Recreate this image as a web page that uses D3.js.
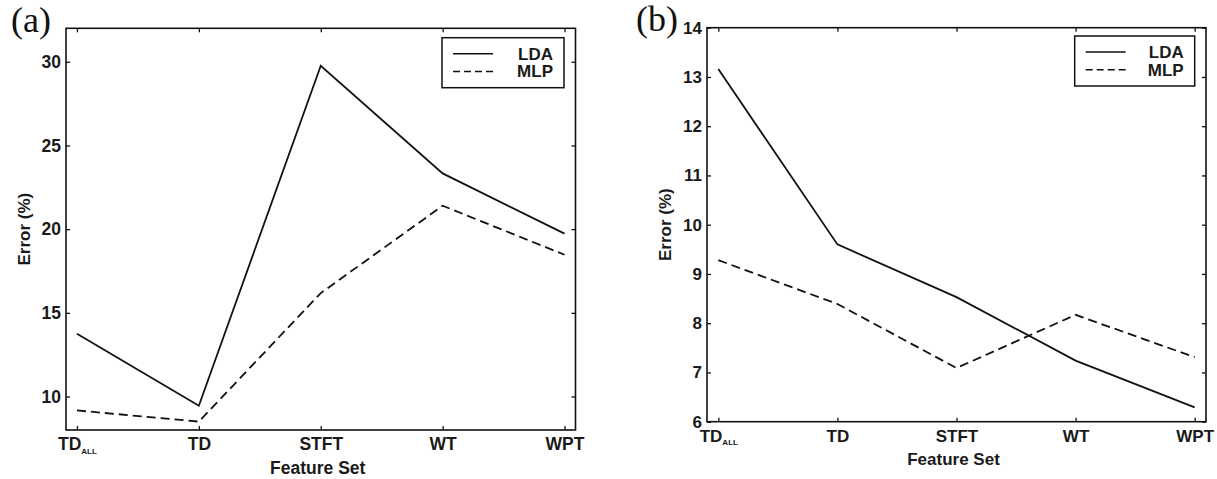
<!DOCTYPE html>
<html>
<head>
<meta charset="utf-8">
<script src="https://cdn.jsdelivr.net/npm/d3@7"></script>
<style>
  body { margin: 0; background: #fff; }
</style>
</head>
<body>
<script>
// feature sets on the x axis
var featureSets = ["TD_ALL", "TD", "STFT", "WT", "WPT"];

// panel (a) error values (%)
var ldaErrorA = [13.75, 9.45, 29.76, 23.33, 19.73];
var mlpErrorA = [9.17, 8.5, 16.18, 21.4, 18.47];
var yTicksA = [10, 15, 20, 25, 30];

// panel (b) error values (%)
var ldaErrorB = [13.16, 9.6, 8.53, 7.24, 6.29];
var mlpErrorB = [9.28, 8.39, 7.09, 8.17, 7.31];
var yTicksB = [6, 7, 8, 9, 10, 11, 12, 13, 14];

var seriesNames = ["LDA", "MLP"];
var sans = "'Liberation Sans', Arial, sans-serif";

var svg = d3.select("body").append("svg")
  .attr("width", 1217)
  .attr("height", 479);

// scanned-looking heavy sans text
function inkText(sel, size) {
  return sel
    .style("font-family", sans)
    .style("font-size", size + "px")
    .style("font-weight", "bold")
    .attr("fill", "#1a1a1a");
}

function drawPanel(p) {
  var x = d3.scalePoint()
    .domain(featureSets)
    .range([p.left, p.right])
    .padding(p.pad);
  var y = d3.scaleLinear()
    .domain(p.yDomain)
    .range([p.bottom, p.top]);

  var g = svg.append("g");

  // inward ticks on all four sides
  var bottomAxis = g.append("g")
    .attr("transform", `translate(0, ${p.bottom})`)
    .call(d3.axisBottom(x).tickSize(-4).tickPadding(p.xPad).tickSizeOuter(0));
  g.append("g")
    .attr("transform", `translate(0, ${p.top})`)
    .call(d3.axisTop(x).tickSize(-4).tickFormat("").tickSizeOuter(0));
  g.append("g")
    .attr("transform", `translate(${p.left}, 0)`)
    .call(d3.axisLeft(y).tickValues(p.yTicks).tickSize(-4).tickPadding(5).tickSizeOuter(0));
  g.append("g")
    .attr("transform", `translate(${p.right}, 0)`)
    .call(d3.axisRight(y).tickValues(p.yTicks).tickSize(-4).tickFormat("").tickSizeOuter(0));

  g.selectAll(".domain").remove();
  g.selectAll(".tick line").attr("stroke", "#111").attr("stroke-width", 1.3);
  inkText(g.selectAll(".tick text"), p.fs);

  // subscript for TD_ALL
  bottomAxis.selectAll(".tick text").each(function(d) {
    if (d === "TD_ALL") {
      var t = d3.select(this).text("TD");
      t.append("tspan")
        .style("font-size", "8px")
        .attr("dy", "0.45em")
        .text("ALL");
    }
  });

  // frame
  g.append("rect")
    .attr("x", p.left)
    .attr("y", p.top)
    .attr("width", p.right - p.left)
    .attr("height", p.bottom - p.top)
    .attr("fill", "none")
    .attr("stroke", "#111")
    .attr("stroke-width", 1.6);

  var line = d3.line()
    .x((d, i) => x(featureSets[i]))
    .y(d => y(d));

  g.append("path")
    .datum(p.lda)
    .attr("d", line)
    .attr("fill", "none")
    .attr("stroke", "#111")
    .attr("stroke-width", 1.8);
  g.append("path")
    .datum(p.mlp)
    .attr("d", line)
    .attr("fill", "none")
    .attr("stroke", "#111")
    .attr("stroke-width", 1.8)
    .attr("stroke-dasharray", "9,5");

  // legend
  var lg = g.append("g")
    .attr("transform", `translate(${p.right - p.legRight - p.legW}, ${p.top + p.legTop})`);
  lg.append("rect")
    .attr("width", p.legW)
    .attr("height", 50)
    .attr("fill", "#fff")
    .attr("stroke", "#111")
    .attr("stroke-width", 1.5);
  seriesNames.forEach(function(name, i) {
    var ly = 16 + i * 17.7;
    lg.append("line")
      .attr("x1", 11).attr("x2", 51)
      .attr("y1", ly).attr("y2", ly)
      .attr("stroke", "#111")
      .attr("stroke-width", 1.5)
      .attr("stroke-dasharray", i === 0 ? null : "7,4");
    inkText(lg.append("text"), 17)
      .attr("x", p.legW - 11)
      .attr("y", ly + 6)
      .attr("text-anchor", "end")
      .text(name);
  });

  // axis titles
  inkText(g.append("text"), p.titleFs)
    .attr("x", (p.left + p.right) / 2 - 3)
    .attr("y", p.bottom + p.titleGap)
    .attr("text-anchor", "middle")
    .text("Feature Set");
  inkText(g.append("text"), 17)
    .attr("transform", `translate(${p.yTitleX}, ${(p.top + p.bottom) / 2}) rotate(-90)`)
    .attr("text-anchor", "middle")
    .text("Error (%)");

  // panel letter
  svg.append("text")
    .attr("x", p.tagX)
    .attr("y", p.tagY)
    .style("font-family", "'Liberation Serif', 'DejaVu Serif', serif")
    .style("font-size", "36px")
    .attr("fill", "#111")
    .text(p.tag);
}

drawPanel({
  left: 66, right: 575.5, top: 28.3, bottom: 430, pad: 0.09,
  yDomain: [8, 32], yTicks: yTicksA, lda: ldaErrorA, mlp: mlpErrorA,
  fs: 17.5, xPad: 8, titleGap: 44, titleFs: 17.5, yTitleX: 30,
  legW: 122, legRight: 11.5, legTop: 9.4,
  tag: "(a)", tagX: 11, tagY: 32
});

drawPanel({
  left: 707, right: 1206, top: 27.7, bottom: 421.7, pad: 0.095,
  yDomain: [6, 14], yTicks: yTicksB, lda: ldaErrorB, mlp: mlpErrorB,
  fs: 17, xPad: 8, titleGap: 43.5, titleFs: 17, yTitleX: 671,
  legW: 120, legRight: 11.3, legTop: 8.3,
  tag: "(b)", tagX: 636, tagY: 31
});
</script>
</body>
</html>
